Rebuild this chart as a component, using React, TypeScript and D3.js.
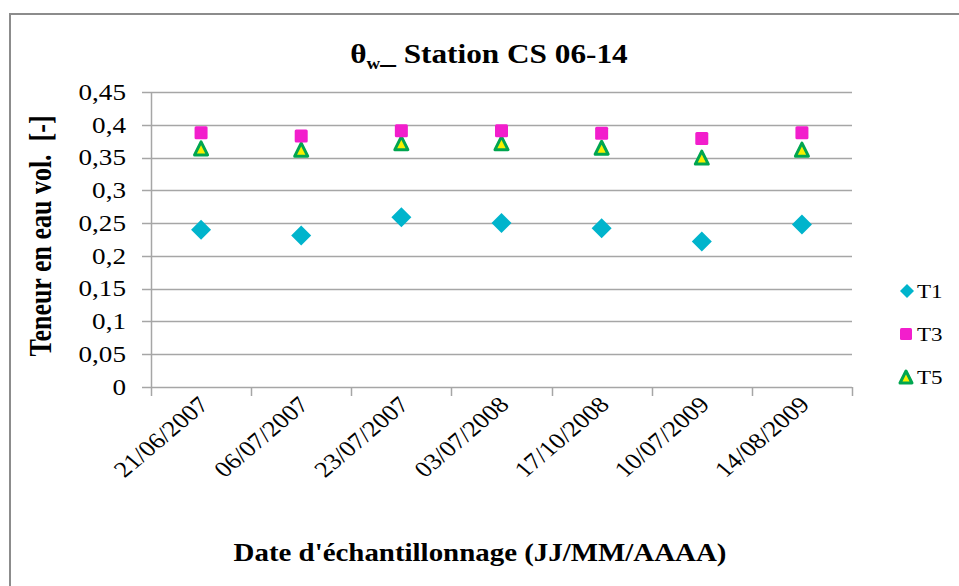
import React from "react";
import * as d3 from "d3";

const categories = ["21/06/2007", "06/07/2007", "23/07/2007", "03/07/2008", "17/10/2008", "10/07/2009", "14/08/2009"];
const t1Values = [0.240, 0.231, 0.259, 0.250, 0.242, 0.222, 0.248];
const t3Values = [0.388, 0.383, 0.391, 0.391, 0.387, 0.379, 0.388];
const t5Values = [0.364, 0.362, 0.372, 0.372, 0.365, 0.350, 0.362];
const yTicks = [0, 0.05, 0.1, 0.15, 0.2, 0.25, 0.3, 0.35, 0.4, 0.45];
const seriesNames = ["T1", "T3", "T5"];

const W = 959;
const H = 586;
const plot = { left: 151, right: 852, top: 92, bottom: 387 };
const FONT = '"Liberation Serif", "Tinos"';
const SX = 1.18;
const CYAN = "#00B4CC";
const MAGENTA = "#F21ECC";
const GREEN = "#00A650";
const YELLOW = "#F6F000";
const GRID = "#A6A6A6";

const fmt = (v: number) => (Math.round(v * 100) / 100).toString().replace(".", ",");

function T({ x, y, rot = 0, size, bold = false, anchor = "start", children }: any) {
  return (
    <text
      transform={`translate(${x},${y}) scale(${SX},1) rotate(${rot})`}
      textAnchor={anchor}
      fontSize={size}
      fontWeight={bold ? "bold" : "normal"}
      fill="#000"
      style={{ fontFamily: FONT, whiteSpace: "pre" }}
    >
      {children}
    </text>
  );
}

function Diamond({ x, y, s }: { x: number; y: number; s: number }) {
  const h = s / 2;
  return <path d={`M${x},${y - h}L${x + h},${y}L${x},${y + h}L${x - h},${y}Z`} fill={CYAN} />;
}
function Square({ x, y, s }: { x: number; y: number; s: number }) {
  return <rect x={x - s / 2} y={y - s / 2} width={s} height={s} rx={1.5} fill={MAGENTA} />;
}
function Triangle({ x, y, s }: { x: number; y: number; s: number }) {
  const h = s / 2;
  return (
    <path
      d={`M${x},${y - h + 1.5}L${x + h - 1.5},${y + h - 1.5}L${x - h + 1.5},${y + h - 1.5}Z`}
      fill={YELLOW}
      stroke={GREEN}
      strokeWidth={3}
      strokeLinejoin="round"
    />
  );
}

export default function App() {
  const x = d3.scaleBand<string>().domain(categories).range([plot.left, plot.right]).padding(0);
  const y = d3.scaleLinear().domain([0, 0.45]).range([plot.bottom, plot.top]);
  const cx = (c: string) => (x(c) as number) + x.bandwidth() / 2;
  const tickXs = categories.map((c) => x(c) as number).concat([plot.right]);

  return (
    <svg width={W} height={H} style={{ position: "absolute", left: 0, top: 0, background: "#fff" }}>
      <rect x={0} y={0} width={W} height={H} fill="#fff" />
      <rect x={10} y={14} width={W + 20} height={H + 20} fill="#fff" stroke="#8C8C8C" strokeWidth={2} />

      {/* Title */}
      <T x={489} y={63} size={26.5} bold anchor="middle">
        <tspan>θ</tspan>
        <tspan dy={6} fontSize={16}>w</tspan>
        <tspan dy={-6}>_ Station CS 06-14</tspan>
      </T>

      {/* gridlines */}
      {yTicks.map((t) => (
        <line key={t} x1={plot.left - 9} x2={plot.right} y1={Math.round(y(t)) + 0.5} y2={Math.round(y(t)) + 0.5} stroke={GRID} strokeWidth={1.5} />
      ))}
      {/* y axis */}
      <line x1={plot.left + 0.5} x2={plot.left + 0.5} y1={plot.top} y2={plot.bottom} stroke={GRID} strokeWidth={1.5} />
      {/* x ticks */}
      {tickXs.map((tx, i) => (
        <line key={i} x1={Math.round(tx) + 0.5} x2={Math.round(tx) + 0.5} y1={plot.bottom} y2={plot.bottom + 9} stroke={GRID} strokeWidth={1.5} />
      ))}

      {/* y tick labels */}
      {yTicks.map((t) => (
        <T key={t} x={126} y={y(t) + 7.8} size={23} anchor="end">
          {fmt(t)}
        </T>
      ))}

      {/* y axis title */}
      <T x={51} y={236} rot={-90} size={26} bold anchor="middle">
        {"Teneur en eau vol.  [-]"}
      </T>

      {/* x tick labels */}
      {categories.map((c) => (
        <T key={c} x={cx(c) + 9} y={406} rot={-45} size={22.5} anchor="end">
          {c}
        </T>
      ))}

      {/* x axis title */}
      <T x={480} y={561} size={24.5} bold anchor="middle">
        Date d'échantillonnage (JJ/MM/AAAA)
      </T>

      {/* series */}
      {categories.map((c, i) => (
        <Diamond key={"t1" + c} x={cx(c)} y={y(t1Values[i])} s={20} />
      ))}
      {categories.map((c, i) => (
        <Triangle key={"t5" + c} x={cx(c)} y={y(t5Values[i])} s={16} />
      ))}
      {categories.map((c, i) => (
        <Square key={"t3" + c} x={cx(c)} y={y(t3Values[i])} s={13} />
      ))}

      {/* legend */}
      <Diamond x={907} y={291} s={14} />
      <T x={917} y={298} size={19.5}>{seriesNames[0]}</T>
      <Square x={906} y={334} s={12} />
      <T x={917} y={341} size={19.5}>{seriesNames[1]}</T>
      <Triangle x={906} y={377} s={15} />
      <T x={917} y={384} size={19.5}>{seriesNames[2]}</T>
    </svg>
  );
}
